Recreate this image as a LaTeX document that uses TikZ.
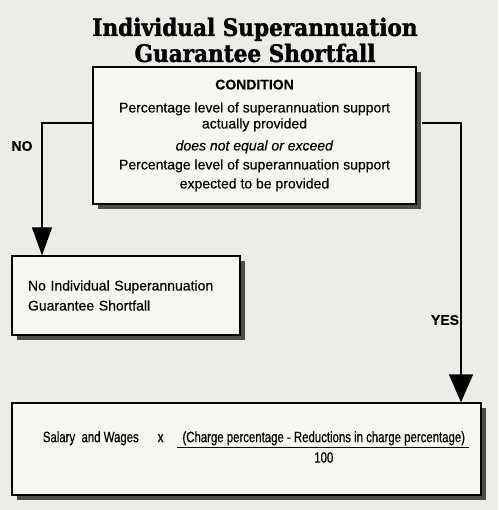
\documentclass[tikz,border=0pt]{standalone}
\usepackage{fontspec}
\setmainfont[FakeBold=0.4]{Liberation Sans}
\newfontfamily\narrowfont[FakeStretch=0.76, FakeBold=0.4]{Liberation Sans}
\newfontfamily\titlefont[FakeBold=1.6]{DejaVu Serif Condensed}
\usepackage{xcolor}
\usepackage{tikz}
\usetikzlibrary{positioning,shadows,arrows.meta}
\definecolor{paper}{RGB}{236,236,233}
\definecolor{boxfill}{RGB}{246,246,243}

\begin{document}
\begin{tikzpicture}[
  x=1pt, y=-1pt,
  box/.style={rectangle, draw, line width=1.3pt, fill=boxfill, inner sep=0pt,
    drop shadow={shadow xshift=5pt, shadow yshift=-5pt, fill=black!70, opacity=1}},
  answer/.style={font=\fontsize{14}{16}\selectfont\bfseries},
  arrow/.style={line width=1.3pt, -{Triangle[length=28pt, width=20pt]}},
]
  \fill[paper] (0,0) rectangle (498,510);
  \useasboundingbox (0,0) rectangle (498,510);

  % title
  \node[align=center, font=\titlefont\fontsize{24}{26}\selectfont\bfseries] (title) at (255,40)
    {Individual Superannuation\\Guarantee Shortfall};

  % condition
  \node[box, minimum width=323pt, minimum height=137pt, align=center,
    font=\fontsize{14}{16}\selectfont] (cond) at (254.5,135.5)
    {\textbf{CONDITION}\\[7pt]
     Percentage level of superannuation support\\
     actually provided\\[6pt]
     \textit{does not equal or exceed}\\[3pt]
     Percentage level of superannuation support\\[3pt]
     expected to be provided};

  % outcomes
  \node[box, minimum width=228pt, minimum height=79pt, text width=196pt, align=left,
    font=\fontsize{14}{20}\selectfont] (nobox) at (126,295.5)
    {No Individual Superannuation\\Guarantee Shortfall};
  \node[box, minimum width=469pt, minimum height=92pt,
    font=\narrowfont\fontsize{15}{17}\selectfont] (calc) at (246.5,449)
    {\hspace*{19pt}Salary\ \ and Wages\hspace{19pt}x\hspace{14pt}%
     \begin{tabular}[t]{@{\hspace{5pt}}c@{\hspace{4pt}}}
       (Charge percentage - Reductions in charge percentage)\\[0pt]
       \hline
       \rule{0pt}{15pt}100
     \end{tabular}};

  \coordinate (noturn) at (42,123);
  \coordinate (yesturn) at (461,123);

  \draw[arrow] (cond.west |- noturn) -- (noturn) -- (nobox.north -| noturn);
  \draw[arrow, -{Triangle[length=28pt, width=24pt]}, shorten <=5pt]
    (cond.east |- yesturn) -- (yesturn) -- (calc.north -| yesturn);

  \node[answer] (no) at (22,146) {NO};
  \node[answer] (yes) at (445,320) {YES};
\end{tikzpicture}
\end{document}
